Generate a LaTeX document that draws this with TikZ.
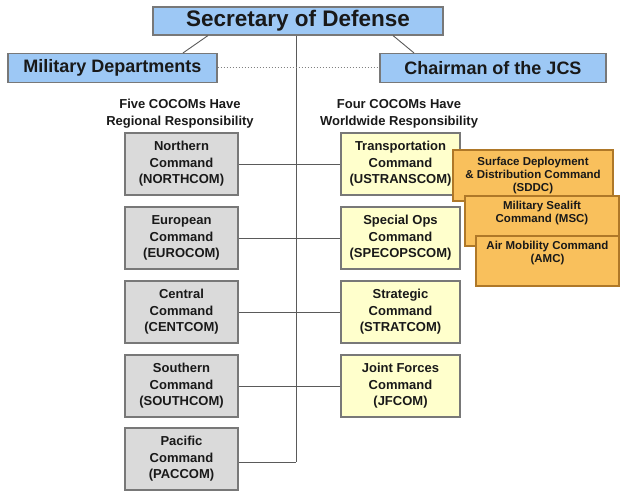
\documentclass[tikz,border=0pt]{standalone}
\usepackage{fontspec}
\setmainfont{Liberation Sans}
\definecolor{bluefill}{RGB}{157,200,245}
\definecolor{greyfill}{RGB}{218,218,218}
\definecolor{yellowfill}{RGB}{255,255,204}
\definecolor{orangefill}{RGB}{249,192,92}
\definecolor{orangeline}{RGB}{175,120,40}
\definecolor{boxline}{RGB}{120,120,120}
\definecolor{linkline}{RGB}{90,90,90}
\definecolor{inktext}{RGB}{25,25,25}
\begin{document}
\begin{tikzpicture}[x=1pt,y=-1pt,
  every node/.style={text=inktext, inner sep=0pt, align=center},
  boxbase/.style={draw=boxline, line width=1.1pt},
  headbox/.style={boxbase, fill=bluefill},
  regionbox/.style={boxbase, fill=greyfill, minimum width=113pt, minimum height=62pt,
    font=\bfseries\fontsize{13}{16.5}\selectfont},
  worldbox/.style={boxbase, fill=yellowfill, minimum width=119pt, minimum height=62pt,
    font=\bfseries\fontsize{13}{16.5}\selectfont},
  subbox/.style={draw=orangeline, line width=1.1pt, fill=orangefill},
  subtext/.style={anchor=north, font=\bfseries\fontsize{11.5}{13}\selectfont},
  heading/.style={font=\bfseries\fontsize{13}{17}\selectfont},
  link/.style={draw=linkline, line width=0.9pt},
  dotlink/.style={draw=gray, line width=1pt, dotted}
]
\useasboundingbox (0,0) rectangle (621,492);

% top of the chain of command
\node[headbox, minimum width=290pt, minimum height=28pt,
  font=\bfseries\fontsize{22.5}{26}\selectfont] (secdef) at (298,21) {Secretary of Defense};
\node[headbox, minimum width=209pt, minimum height=29pt,
  font=\bfseries\fontsize{18}{22}\selectfont] (mildep) at (112.5,68) {Military Departments};
\node[headbox, minimum width=226pt, minimum height=29pt,
  font=\bfseries\fontsize{18}{22}\selectfont] (cjcs) at (493,68) {Chairman of the JCS};

% column headings
\node[heading] (regional) at (180,113.5) {Five COCOMs Have\\Regional Responsibility};
\node[heading] (worldwide) at (399,113.5) {Four COCOMs Have\\Worldwide Responsibility};

% regional combatant commands
\node[regionbox] (north) at (181.5,164) {Northern\\Command\\(NORTHCOM)};
\node[regionbox] (euro)  at (181.5,238) {European\\Command\\(EUROCOM)};
\node[regionbox] (cent)  at (181.5,312) {Central\\Command\\(CENTCOM)};
\node[regionbox] (south) at (181.5,386) {Southern\\Command\\(SOUTHCOM)};
\node[regionbox] (pac)   at (181.5,459) {Pacific\\Command\\(PACCOM)};

% worldwide combatant commands
\node[worldbox] (trans) at (400.5,164) {Transportation\\Command\\(USTRANSCOM)};
\node[worldbox] (specops) at (400.5,238) {Special Ops\\Command\\(SPECOPSCOM)};
\node[worldbox] (strat) at (400.5,312) {Strategic\\Command\\(STRATCOM)};
\node[worldbox] (jf) at (400.5,386) {Joint Forces\\Command\\(JFCOM)};

% connectors
\coordinate (spine) at (296,462);
\draw[link] (spine |- secdef.south) -- (spine);
\draw[link] (secdef.south -| 208,0) -- (mildep.north -| 183,0);
\draw[link] (secdef.south -| 393,0) -- (cjcs.north -| 414,0);
\draw[dotlink] (mildep.east) -- (cjcs.west);
\draw[link] (north.east) -- (trans.west);
\draw[link] (euro.east) -- (specops.west);
\draw[link] (cent.east) -- (strat.west);
\draw[link] (south.east) -- (jf.west);
\draw[link] (pac.east |- spine) -- (spine);

% transportation component commands
\node[subbox, minimum width=160pt, minimum height=51pt] (sddc) at (533,175.5) {};
\node[subtext] (sddctext) at ([yshift=-8pt]sddc.north) {Surface Deployment\\\& Distribution Command\\(SDDC)};
\node[subbox, minimum width=154pt, minimum height=50pt] (msc) at (542,221) {};
\node[subtext] (msctext) at ([yshift=-6pt]msc.north) {Military Sealift\\Command (MSC)};
\node[subbox, minimum width=143pt, minimum height=50pt] (amc) at (547.5,261) {};
\node[subtext] (amctext) at ([yshift=-6pt]amc.north) {Air Mobility Command\\(AMC)};
\end{tikzpicture}
\end{document}
